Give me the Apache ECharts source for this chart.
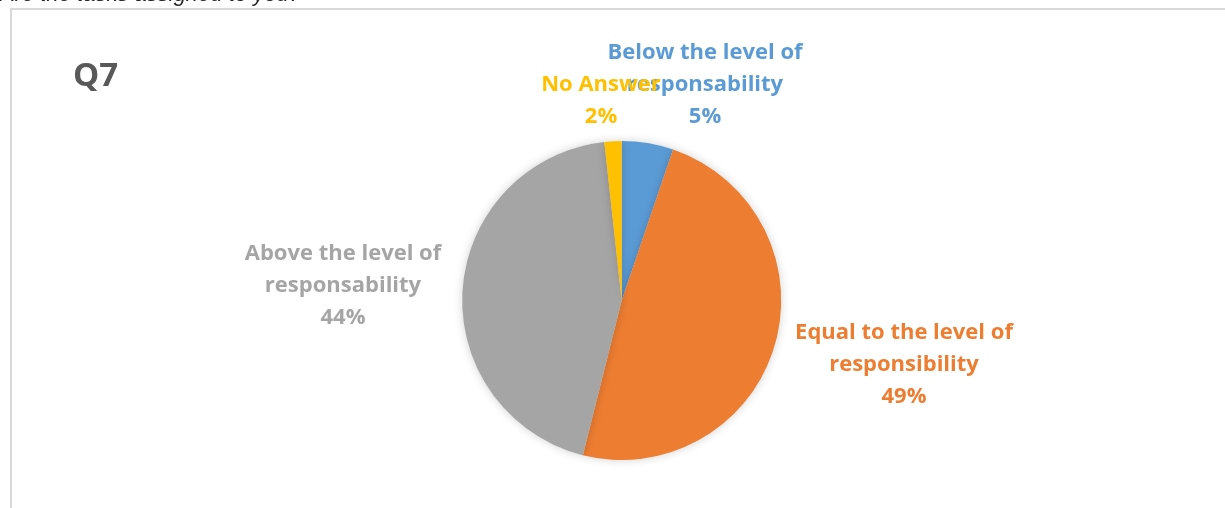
<!DOCTYPE html>
<html>
<head>
<meta charset="utf-8">
<script src="https://cdn.jsdelivr.net/npm/echarts@6/dist/echarts.min.js"></script>
<style>
  html, body { margin: 0; padding: 0; background: #ffffff; }
  #chart { width: 1225px; height: 508px; }
</style>
</head>
<body>
<div id="chart"></div>
<script>
// ---- data ----
const categories = ['Below the level of\nresponsability', 'Equal to the level of\nresponsibility', 'Above the level of\nresponsability', 'No Answer'];
const counts = [6, 56, 51, 2];
const colors = ['#5B9BD5', '#ED7D31', '#A5A5A5', '#FFC000'];
const questionTitle = 'Are the tasks assigned to you?';
const chartLabel = 'Q7';

// label anchor positions (layout only)
const labelPos = [[705, 85], [904, 365], [343, 286], [601, 101]];

const chart = echarts.init(document.getElementById('chart'), null, { renderer: 'canvas' });

const option = {
  animation: false,
  backgroundColor: '#ffffff',
  graphic: [
    {
      type: 'rect',
      shape: { x: 11, y: 9, width: 1300, height: 600 },
      style: { fill: 'none', stroke: '#d9d9d9', lineWidth: 2 },
      z: 0
    },
    {
      type: 'text',
      style: {
        text: questionTitle,
        x: 0, y: 6,
        font: 'italic 22px "Liberation Sans", Arial, sans-serif',
        fill: '#262626',
        textVerticalAlign: 'bottom'
      },
      z: 1
    },
    {
      type: 'text',
      style: {
        text: chartLabel,
        x: 73, y: 77,
        font: 'bold 33px "Open Sans", Lato, sans-serif',
        fill: '#595959',
        textVerticalAlign: 'middle'
      },
      z: 1
    }
  ],
  series: [{
    type: 'pie',
    center: [621.7, 300.5],
    radius: [0, 159.5],
    startAngle: 90,
    clockwise: true,
    avoidLabelOverlap: false,
    itemStyle: {
      borderWidth: 0,
      shadowBlur: 10,
      shadowColor: 'rgba(0,0,0,0.18)'
    },
    label: {
      show: true,
      fontFamily: '"Open Sans", sans-serif',
      fontWeight: 'bold',
      fontSize: 22,
      lineHeight: 32,
      align: 'center',
      formatter: function (p) { return p.name + '\n' + Math.round(p.percent) + '%'; }
    },
    labelLine: { show: false },
    labelLayout: function (p) {
      const pos = labelPos[p.dataIndex];
      return { x: pos[0], y: pos[1], align: 'center', verticalAlign: 'middle' };
    },
    data: categories.map(function (c, i) {
      return { name: c, value: counts[i], itemStyle: { color: colors[i] }, label: { color: colors[i] } };
    })
  }]
};

chart.setOption(option);
</script>
</body>
</html>
